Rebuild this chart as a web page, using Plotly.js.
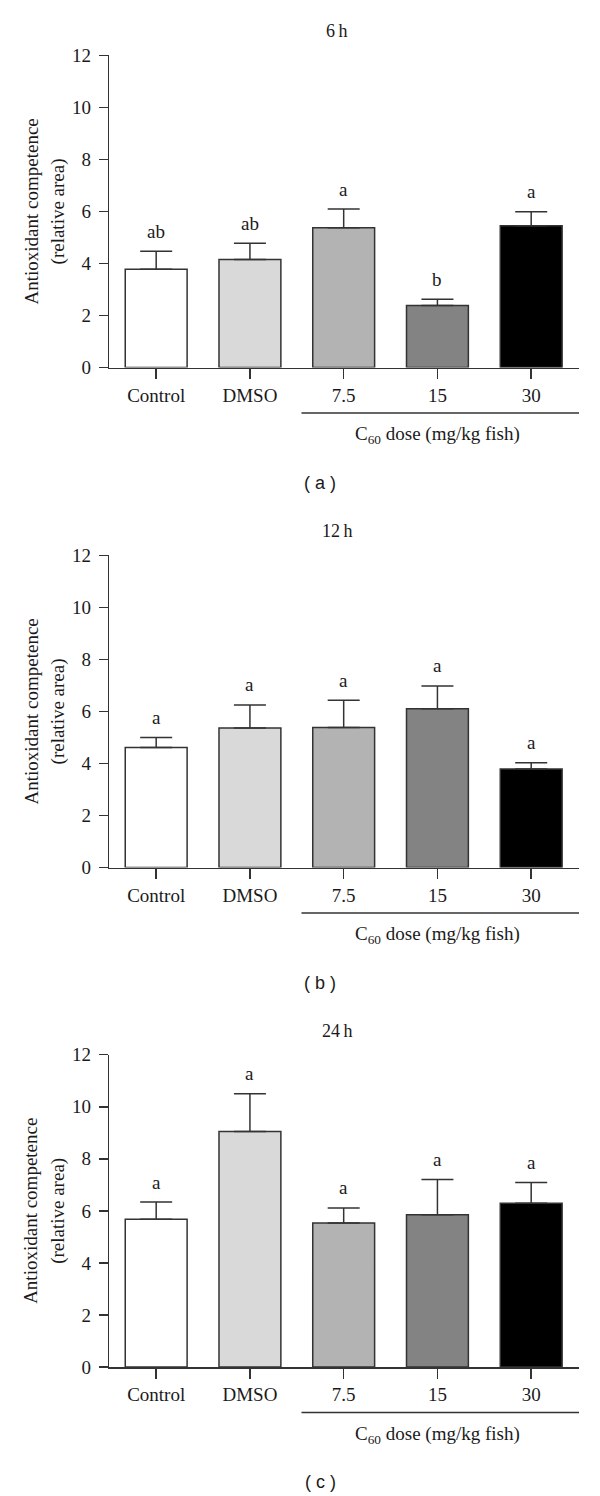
<!DOCTYPE html>
<html>
<head>
<meta charset="utf-8">
<script src="https://cdn.plot.ly/plotly-3.0.1.min.js"></script>
<style>
  html, body { margin: 0; padding: 0; background: #ffffff; }
  #chart { width: 600px; height: 1496px; }
</style>
</head>
<body>
<div id="chart"></div>
<script>
// ---- data ----
const categories = ['Control', 'DMSO', '7.5', '15', '30'];
const barColors = ['#ffffff', '#d9d9d9', '#b3b3b3', '#838383', '#000000'];

const panelTitles = ['6\u2009h', '12\u2009h', '24\u2009h'];
const panelLabels = ['( a )', '( b )', '( c )'];

const mean6h  = [3.78, 4.15, 5.37, 2.39, 5.45];
const sem6h   = [0.69, 0.63, 0.72, 0.24, 0.54];
const letters6h = ['ab', 'ab', 'a', 'b', 'a'];

const mean12h = [4.61, 5.36, 5.38, 6.10, 3.79];
const sem12h  = [0.39, 0.89, 1.05, 0.88, 0.24];
const letters12h = ['a', 'a', 'a', 'a', 'a'];

const mean24h = [5.68, 9.05, 5.53, 5.85, 6.29];
const sem24h  = [0.66, 1.45, 0.58, 1.35, 0.80];
const letters24h = ['a', 'a', 'a', 'a', 'a'];

const yTickVals = [0, 2, 4, 6, 8, 10, 12];
const yTitleLine1 = 'Antioxidant competence';
const yTitleLine2 = '(relative area)';
const doseLabel = 'C<sub>60</sub> dose (mg/kg fish)';

const means = [mean6h, mean12h, mean24h];
const sems = [sem6h, sem12h, sem24h];
const letters = [letters6h, letters12h, letters24h];

// ---- layout geometry ----
const W = 600, H = 1496;
const plotTopsPx = [55.3, 555.3, 1054.7];
const plotHeightPx = 312.3;
const xDomain = [109.3 / W, 579 / W];
const serif = 'Liberation Serif, Times New Roman, serif';
const ink = '#333333';
const txt = '#1a1a1a';
const fs = 19;

const traces = [];
const layout = {
  width: W, height: H,
  margin: {l: 0, r: 0, t: 0, b: 0},
  paper_bgcolor: '#ffffff',
  plot_bgcolor: '#ffffff',
  showlegend: false,
  font: {family: serif, size: fs, color: txt},
  annotations: [],
  shapes: []
};

for (let i = 0; i < 3; i++) {
  const sfx = i === 0 ? '' : String(i + 1);
  const xa = 'x' + sfx, ya = 'y' + sfx;
  const top = plotTopsPx[i];
  const bottom = top + plotHeightPx;

  traces.push({
    type: 'bar',
    x: categories,
    y: means[i],
    xaxis: xa, yaxis: ya,
    width: 0.66,
    marker: {color: barColors, line: {color: ink, width: 1.5}},
    error_y: {
      type: 'data', symmetric: false,
      array: sems[i], arrayminus: sems[i].map(() => 0),
      color: ink, thickness: 1.5, width: 16
    },
    hoverinfo: 'skip'
  });

  layout['xaxis' + sfx] = {
    domain: xDomain,
    anchor: ya,
    type: 'category',
    range: [-0.5, 4.51],
    showline: true, linecolor: ink, linewidth: 1.5,
    ticks: 'outside', ticklen: 10, tickwidth: 1.5, tickcolor: ink,
    showgrid: false, zeroline: false,
    tickfont: {family: serif, size: fs, color: txt},
    fixedrange: true
  };
  layout['yaxis' + sfx] = {
    domain: [1 - bottom / H, 1 - top / H],
    anchor: xa,
    range: [0, 12],
    tickvals: yTickVals,
    showline: true, linecolor: ink, linewidth: 1.5,
    ticks: 'outside', ticklen: 9, tickwidth: 1.5, tickcolor: ink,
    ticklabelstandoff: 4,
    showgrid: false, zeroline: false,
    tickfont: {family: serif, size: fs, color: txt},
    fixedrange: true
  };

  // significance letters above the error bars (x given as category index)
  categories.forEach((c, j) => {
    layout.annotations.push({
      xref: xa, yref: ya, x: j, y: means[i][j] + sems[i][j],
      text: letters[i][j], showarrow: false,
      xanchor: 'center', yanchor: 'middle', yshift: 20,
      font: {family: serif, size: fs, color: txt}
    });
  });

  // panel title
  layout.annotations.push({
    xref: 'paper', yref: ya + ' domain',
    x: 337 / W, y: 1 + 24 / plotHeightPx,
    text: panelTitles[i], showarrow: false,
    xanchor: 'center', yanchor: 'middle',
    font: {family: serif, size: 18, color: txt}
  });

  // y-axis title (two lines)
  const yMid = (top + bottom) / 2;
  layout.annotations.push({
    xref: 'paper', yref: 'paper',
    x: 31 / W, y: 1 - yMid / H,
    text: yTitleLine1, textangle: -90, showarrow: false,
    xanchor: 'center', yanchor: 'middle',
    font: {family: serif, size: fs, color: txt}
  });
  layout.annotations.push({
    xref: 'paper', yref: 'paper',
    x: 58 / W, y: 1 - yMid / H,
    text: yTitleLine2, textangle: -90, showarrow: false,
    xanchor: 'center', yanchor: 'middle',
    font: {family: serif, size: fs, color: txt}
  });

  // bracket under the C60 doses
  layout.shapes.push({
    type: 'line', xref: xa, yref: ya + ' domain',
    x0: 2 - 0.45, x1: 4.51,
    y0: -45.4 / plotHeightPx, y1: -45.4 / plotHeightPx,
    line: {color: ink, width: 1.5}
  });
  layout.annotations.push({
    xref: xa, yref: ya + ' domain',
    x: 3, y: -67.7 / plotHeightPx,
    text: doseLabel, showarrow: false,
    xanchor: 'center', yanchor: 'middle',
    font: {family: serif, size: fs, color: txt}
  });

  // panel label
  layout.annotations.push({
    xref: 'paper', yref: ya + ' domain',
    x: 320 / W, y: -115 / plotHeightPx,
    text: panelLabels[i], showarrow: false,
    xanchor: 'center', yanchor: 'middle',
    font: {family: 'Liberation Sans, Arial, sans-serif', size: 18, color: txt}
  });
}

Plotly.newPlot('chart', traces, layout, {staticPlot: true, displayModeBar: false});
</script>
</body>
</html>
